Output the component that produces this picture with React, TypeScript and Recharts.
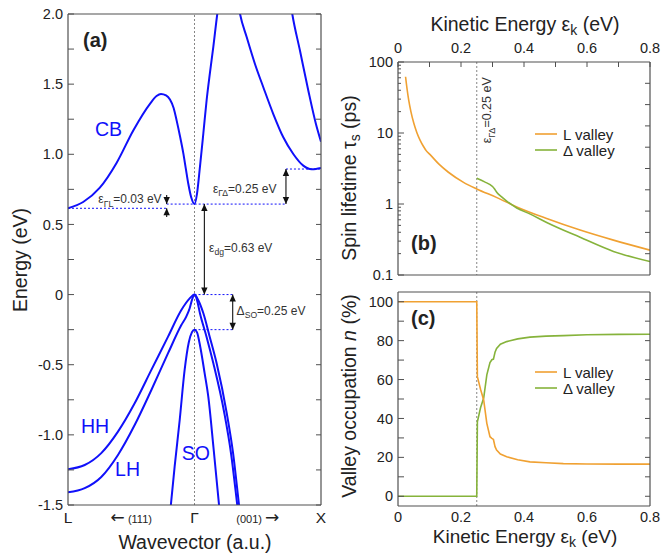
import React from "react";
import { LineChart, Line, XAxis, YAxis, ReferenceLine, ReferenceDot, Legend } from "recharts";

const FONT = "'Liberation Sans', Arial, sans-serif";
const BLUE = "#1010FA";
const ORANGE = "#F0A132";
const GREEN = "#86B33B";
const FRAME = "#505050";
const INK = "#222";
const TICK = 5;

// ---- (a) band structure: k runs L (-1) -> Γ (0) -> X (+1), energy in eV
const cbMain: [number, number][] = [
  [-1, 0.615], [-0.88, 0.66], [-0.75, 0.76], [-0.615, 0.94], [-0.484, 1.17], [-0.352, 1.36],
  [-0.3, 1.415], [-0.265, 1.43], [-0.225, 1.42], [-0.194, 1.39], [-0.165, 1.33], [-0.141, 1.24],
  [-0.115, 1.13], [-0.089, 1.01], [-0.069, 0.9], [-0.049, 0.79], [-0.025, 0.69], [0, 0.645],
  [0.02, 0.72], [0.043, 0.91], [0.07, 1.15], [0.096, 1.387], [0.122, 1.58], [0.149, 1.767],
  [0.18, 2.0], [0.21, 2.18], [0.25, 2.3], [0.29, 2.3], [0.33, 2.16], [0.36, 2.0], [0.413, 1.834],
  [0.478, 1.644], [0.544, 1.478], [0.623, 1.287], [0.702, 1.121], [0.781, 1.002], [0.86, 0.919],
  [0.926, 0.893], [0.96, 0.895], [1, 0.902],
];
const cbUpper: [number, number][] = [
  [0.74, 2.2], [0.773, 2.0], [0.834, 1.738], [0.9, 1.453], [0.96, 1.216], [1, 1.09],
];
const hhBand: [number, number][] = [
  [-1, -1.245], [-0.868, -1.215], [-0.737, -1.13], [-0.605, -0.977], [-0.473, -0.775],
  [-0.341, -0.537], [-0.209, -0.3], [-0.104, -0.11], [-0.038, -0.027], [0, 0], [0.03, -0.04],
  [0.07, -0.133], [0.12, -0.3], [0.175, -0.49], [0.255, -0.846], [0.305, -1.13], [0.352, -1.5],
  [0.38, -1.72],
];
const lhBand: [number, number][] = [
  [-1, -1.41], [-0.868, -1.38], [-0.737, -1.3], [-0.605, -1.143], [-0.473, -0.93], [-0.341, -0.68],
  [-0.209, -0.418], [-0.104, -0.217], [-0.065, -0.157], [-0.038, -0.098], [-0.02, -0.038], [0, 0],
  [0.02, -0.04], [0.043, -0.133], [0.095, -0.3], [0.149, -0.49], [0.236, -0.846], [0.29, -1.14],
  [0.338, -1.5], [0.37, -1.74],
];
const soBand: [number, number][] = [
  [-0.2, -1.62], [-0.183, -1.464], [-0.157, -1.227], [-0.117, -0.894], [-0.078, -0.537],
  [-0.045, -0.34], [-0.02, -0.268], [0, -0.25], [0.02, -0.27], [0.045, -0.37], [0.08, -0.56],
  [0.109, -0.728], [0.15, -1.09], [0.194, -1.5], [0.21, -1.66],
];
// band minima / maxima used by the annotations
const E_L = 0.615, E_G = 0.645, E_D = 0.895, E_VB = 0, E_SO = -0.25;

const energyTicks = [-1.5, -1.25, -1, -0.75, -0.5, -0.25, 0, 0.25, 0.5, 0.75, 1, 1.25, 1.5, 1.75, 2];
const kTicks = [-1, -0.5, 0, 0.5, 1];
const kLabels = ["L", "(111)", "Γ", "(001)", "X"];

// ---- (b) spin lifetime (ps) vs kinetic energy (eV)
const tauL: [number, number][] = [
  [0.024, 62], [0.029, 41], [0.034, 29], [0.041, 20], [0.05, 13.8], [0.06, 10.1], [0.07, 7.95],
  [0.081, 6.45], [0.09, 5.6], [0.102, 4.95], [0.13, 3.64], [0.16, 2.8], [0.208, 2.02],
  [0.25, 1.63], [0.314, 1.23], [0.377, 0.91], [0.472, 0.625], [0.578, 0.43], [0.684, 0.31],
  [0.8, 0.224],
];
const tauD: [number, number][] = [
  [0.25, 2.3], [0.275, 2.05], [0.3, 1.76], [0.306, 1.64], [0.314, 1.45], [0.33, 1.25],
  [0.346, 1.09], [0.377, 0.88], [0.42, 0.72], [0.472, 0.55], [0.578, 0.34], [0.684, 0.215],
  [0.8, 0.155],
];
const tauTicks = [
  0.1, 0.2, 0.3, 0.4, 0.5, 0.6, 0.7, 0.8, 0.9, 1, 2, 3, 4, 5, 6, 7, 8, 9,
  10, 20, 30, 40, 50, 60, 70, 80, 90, 100,
];
const tauMajor = [0.1, 1, 10, 100];
const rightLinTicks = [1, 2, 3, 4, 5, 6, 7, 8, 9];
const ekTicks = [0, 0.1, 0.2, 0.3, 0.4, 0.5, 0.6, 0.7, 0.8];
const ekLabelled = [0, 0.2, 0.4, 0.6, 0.8];

// ---- (c) valley occupation (%) vs kinetic energy (eV)
const occL: [number, number][] = [
  [0, 100], [0.25, 100], [0.252, 61.5], [0.262, 55], [0.272, 49.5], [0.282, 37.5], [0.292, 30.6],
  [0.298, 29.8], [0.303, 29.2], [0.308, 25.5], [0.313, 23.7], [0.325, 21.7], [0.345, 20.3],
  [0.38, 18.8], [0.419, 17.7], [0.47, 17.2], [0.525, 16.8], [0.6, 16.6], [0.7, 16.5], [0.8, 16.5],
];
const occD: [number, number][] = [
  [0, 0], [0.25, 0], [0.252, 38.3], [0.262, 45.5], [0.272, 50.5], [0.282, 62.4], [0.292, 68.7],
  [0.298, 70.2], [0.303, 70.5], [0.308, 74], [0.313, 76], [0.325, 78.2], [0.345, 79.5],
  [0.38, 80.9], [0.419, 81.8], [0.47, 82.3], [0.525, 82.6], [0.6, 83], [0.7, 83.2], [0.8, 83.3],
];
const occTicks = [0, 10, 20, 30, 40, 50, 60, 70, 80, 90, 100];

const valleys: [string, string][] = [["L valley", ORANGE], ["Δ valley", GREEN]];

const pts = (a: [number, number][]) => a.map(([x, y]) => ({ x, y }));

type TP = { x: number; y: number; payload: { value: number } };

// ticks drawn inside the frame, labels outside
const leftTick = (label: (v: number) => string | null, gap: number, minorLen = TICK) => (p: TP) => {
  const t = label(p.payload.value);
  const ax = p.x + gap;
  return (
    <g>
      <line x1={ax} x2={ax + (t !== null ? TICK + 1 : minorLen)} y1={p.y} y2={p.y} stroke={FRAME} />
      {t !== null && (
        <text x={p.x} y={p.y} dy="0.35em" textAnchor="end" fontSize={14.5} fill={INK} fontFamily={FONT}>
          {t}
        </text>
      )}
    </g>
  );
};
const rightTick = (p: TP) => (
  <line x1={p.x} x2={p.x - TICK} y1={p.y} y2={p.y} stroke={FRAME} />
);
const topTick = (gap: number) => (p: TP) => {
  const v = p.payload.value;
  const ay = p.y + gap;
  return (
    <g>
      <line x1={p.x} x2={p.x} y1={ay} y2={ay + TICK} stroke={FRAME} />
      {ekLabelled.includes(v) && (
        <text x={p.x} y={p.y} textAnchor="middle" fontSize={14.5} fill={INK} fontFamily={FONT}>
          {v === 0 ? "0" : v.toFixed(1)}
        </text>
      )}
    </g>
  );
};
const bottomEkTick = (p: TP) => {
  const v = p.payload.value;
  if (!ekLabelled.includes(v)) return <g />;
  return (
    <text x={p.x} y={p.y} dy={16} textAnchor="middle" fontSize={14.5} fill={INK} fontFamily={FONT}>
      {v === 0 ? "0" : v.toFixed(1)}
    </text>
  );
};
const arrowGlyph = { fontFamily: "'DejaVu Sans', sans-serif", fontSize: 17 };
const bottomKTick = (p: TP) => {
  const i = kTicks.indexOf(p.payload.value);
  const lab = kLabels[i];
  const common = { x: p.x, y: p.y, dy: 17.5, textAnchor: "middle" as const, fill: INK, fontFamily: FONT };
  if (i === 1)
    return (
      <text {...common} fontSize={11}>
        <tspan {...arrowGlyph}>←</tspan> {lab}
      </text>
    );
  if (i === 3)
    return (
      <text {...common} fontSize={11}>
        {lab} <tspan {...arrowGlyph}>→</tspan>
      </text>
    );
  return (
    <text {...common} fontSize={15.5}>
      {lab}
    </text>
  );
};

// double or single headed arrow for ReferenceLine segments
const arrow = (both: boolean) => (p: any) => {
  const { x1, y1, x2, y2 } = p;
  const a = Math.atan2(y2 - y1, x2 - x1);
  const head = (x: number, y: number, ang: number) => {
    const L = 7, W = 3.2;
    const bx = x - L * Math.cos(ang), by = y - L * Math.sin(ang);
    const s = Math.sin(ang), c = Math.cos(ang);
    return (
      <polygon
        points={`${x},${y} ${bx + W * s},${by - W * c} ${bx - W * s},${by + W * c}`}
        fill="#111"
      />
    );
  };
  return (
    <g>
      <line x1={x1} y1={y1} x2={x2} y2={y2} stroke="#111" strokeWidth={1.1} />
      {both && head(x1, y1, a + Math.PI)}
      {head(x2, y2, a)}
    </g>
  );
};

// text with a subscript, anchored at a data point
const subText = (main: string, sub: string, rest: string, fs: number, anchor: "start" | "end" = "start") =>
  (p: any) => (
    <text x={p.cx} y={p.cy} fontSize={fs} fill="#333" fontFamily={FONT} textAnchor={anchor}>
      {main}
      <tspan fontSize={fs * 0.72} dy={fs * 0.28}>{sub}</tspan>
      <tspan dy={-fs * 0.28}>{rest}</tspan>
    </text>
  );
const bandLabel = (s: string) => (p: any) => (
  <text x={p.cx} y={p.cy} fontSize={19.5} fill={BLUE} fontFamily={FONT}>{s}</text>
);

const frameLine = { stroke: FRAME, strokeWidth: 1.2 };
const dotted = { stroke: BLUE, strokeDasharray: "2 2", strokeWidth: 1 };
const gridDot = { stroke: "#777", strokeDasharray: "2 2", strokeWidth: 0.9 };

const legendContent = () => (
  <div style={{ fontFamily: FONT, fontSize: 15, color: INK }}>
    {valleys.map(([name, color]) => (
      <div key={name} style={{ display: "flex", alignItems: "center", height: 16 }}>
        <svg width={22} height={16}>
          <line x1={0} x2={22} y1={8} y2={8} stroke={color} strokeWidth={1.6} />
        </svg>
        <span style={{ marginLeft: 6 }}>{name}</span>
      </div>
    ))}
  </div>
);

function BandPanel() {
  const bands = [cbMain, cbUpper, hhBand, lhBand, soBand];
  return (
    <LineChart width={340} height={554} margin={{ top: 13, right: 18, bottom: 4, left: 18 }}>
      <XAxis dataKey="x" type="number" domain={[-1, 1]} ticks={kTicks} interval={0} allowDataOverflow
        tick={bottomKTick} tickLine={false} tickSize={0} tickMargin={0} height={45} axisLine={frameLine} />
      <XAxis xAxisId="t" orientation="top" type="number" domain={[-1, 1]} allowDataOverflow
        tick={false} tickLine={false} height={1} axisLine={frameLine} />
      <YAxis type="number" domain={[-1.5, 2]} ticks={energyTicks} interval={0} allowDataOverflow
        width={50} tickSize={0} tickMargin={5} tickLine={false} axisLine={frameLine}
        tick={leftTick((v) => (Number.isInteger(v * 2) ? (v === 0 ? "0" : v.toFixed(1)) : ""), 5)} />
      <YAxis yAxisId="r" orientation="right" type="number" domain={[-1.5, 2]} ticks={energyTicks}
        interval={0} allowDataOverflow width={1} tickSize={0} tickMargin={0} tickLine={false}
        axisLine={frameLine} tick={rightTick} />

      <ReferenceLine x={0} {...gridDot} />
      <ReferenceLine segment={[{ x: -1, y: E_L }, { x: -0.22, y: E_L }]} {...dotted} />
      <ReferenceLine segment={[{ x: -0.22, y: E_G }, { x: 0.723, y: E_G }]} {...dotted} />
      <ReferenceLine segment={[{ x: 0.723, y: E_D }, { x: 1, y: E_D }]} {...dotted} />
      <ReferenceLine segment={[{ x: 0, y: E_VB }, { x: 0.302, y: E_VB }]} {...dotted} />
      <ReferenceLine segment={[{ x: 0, y: E_SO }, { x: 0.302, y: E_SO }]} {...dotted} />

      {bands.map((b, i) => (
        <Line key={i} data={pts(b)} dataKey="y" type="monotone" stroke={BLUE} strokeWidth={2}
          dot={false} isAnimationActive={false} />
      ))}

      <ReferenceLine segment={[{ x: -0.22, y: 0.71 }, { x: -0.22, y: E_G }]} shape={arrow(false)} />
      <ReferenceLine segment={[{ x: -0.22, y: 0.553 }, { x: -0.22, y: E_L }]} shape={arrow(false)} />
      <ReferenceLine segment={[{ x: 0.723, y: E_G }, { x: 0.723, y: E_D }]} shape={arrow(true)} />
      <ReferenceLine segment={[{ x: 0.078, y: E_VB }, { x: 0.078, y: E_G }]} shape={arrow(true)} />
      <ReferenceLine segment={[{ x: 0.302, y: E_VB }, { x: 0.302, y: E_SO }]} shape={arrow(true)} />

      <ReferenceDot x={-0.26} y={0.65} r={0} shape={subText("ε", "ΓL", "=0.03 eV", 12, "end")} />
      <ReferenceDot x={0.146} y={0.726} r={0} shape={subText("ε", "ΓΔ", "=0.25 eV", 12)} />
      <ReferenceDot x={0.115} y={0.306} r={0} shape={subText("ε", "dg", "=0.63 eV", 12)} />
      <ReferenceDot x={0.333} y={-0.145} r={0} shape={subText("Δ", "SO", "=0.25 eV", 12)} />
      <ReferenceDot x={-0.787} y={1.13} r={0} shape={bandLabel("CB")} />
      <ReferenceDot x={-0.897} y={-0.985} r={0} shape={bandLabel("HH")} />
      <ReferenceDot x={-0.628} y={-1.293} r={0} shape={bandLabel("LH")} />
      <ReferenceDot x={-0.101} y={-1.179} r={0} shape={bandLabel("SO")} />
    </LineChart>
  );
}

function LifetimePanel() {
  return (
    <LineChart width={322} height={290} margin={{ top: 22, right: 11, bottom: 14, left: 8 }}>
      <XAxis xAxisId="top" orientation="top" dataKey="x" type="number" domain={[0, 0.8]} ticks={ekTicks}
        interval={0} allowDataOverflow height={40} tickSize={0} tickMargin={9} tickLine={false}
        axisLine={frameLine} tick={topTick(9)} />
      <XAxis xAxisId="b" type="number" domain={[0, 0.8]} allowDataOverflow tick={false} tickLine={false}
        height={1} axisLine={frameLine} />
      <YAxis type="number" scale="log" domain={[0.1, 100]} ticks={tauTicks} interval={0} allowDataOverflow
        width={50} tickSize={0} tickMargin={5} tickLine={false} axisLine={frameLine}
        tick={leftTick((v) => (tauMajor.includes(v) ? String(v) : null), 5, 3)} />
      <YAxis yAxisId="r" orientation="right" type="number" domain={[0, 10]} ticks={rightLinTicks}
        interval={0} allowDataOverflow width={1} tickSize={0} tickMargin={0} tickLine={false}
        axisLine={frameLine} tick={rightTick} />

      <ReferenceLine xAxisId="top" x={0.25} {...gridDot} />
      <Line xAxisId="top" data={pts(tauL)} dataKey="y" name="L valley" type="monotone" stroke={ORANGE}
        strokeWidth={1.6} dot={false} isAnimationActive={false} />
      <Line xAxisId="top" data={pts(tauD)} dataKey="y" name="Δ valley" type="monotone" stroke={GREEN}
        strokeWidth={1.6} dot={false} isAnimationActive={false} />
      <ReferenceDot xAxisId="top" x={0.296} y={20.9} r={0}
        shape={(p: any) => (
          <g transform={`rotate(-90 ${p.cx} ${p.cy})`}>
            <text x={p.cx} y={p.cy} fontSize={12.5} fill="#333" fontFamily={FONT} textAnchor="middle">
              ε<tspan fontSize={9} dy={3.5}>ΓΔ</tspan><tspan dy={-3.5}>=0.25 eV</tspan>
            </text>
          </g>
        )} />
      <Legend layout="vertical" align="center" verticalAlign="middle" content={legendContent}
        wrapperStyle={{ left: 195, top: 126, width: 120 }} />
    </LineChart>
  );
}

function OccupationPanel() {
  return (
    <LineChart width={322} height={274} margin={{ top: 11, right: 11, bottom: 4, left: 8 }}>
      <XAxis dataKey="x" type="number" domain={[0, 0.8]} ticks={ekTicks} interval={0} allowDataOverflow
        height={44} tickSize={0} tickMargin={0} tickLine={false} axisLine={frameLine} tick={bottomEkTick} />
      <XAxis xAxisId="t" orientation="top" type="number" domain={[0, 0.8]} allowDataOverflow tick={false}
        tickLine={false} height={1} axisLine={frameLine} />
      <YAxis type="number" domain={[-5, 105]} ticks={occTicks} interval={0} allowDataOverflow width={50}
        tickSize={0} tickMargin={5} tickLine={false} axisLine={frameLine}
        tick={leftTick((v) => (v % 20 === 0 ? String(v) : ""), 5)} />
      <YAxis yAxisId="r" orientation="right" type="number" domain={[-5, 105]} ticks={occTicks}
        interval={0} allowDataOverflow width={1} tickSize={0} tickMargin={0} tickLine={false}
        axisLine={frameLine} tick={rightTick} />

      <ReferenceLine x={0.25} {...gridDot} />
      <Line data={pts(occD)} dataKey="y" name="Δ valley" type="linear" stroke={GREEN} strokeWidth={1.6}
        dot={false} isAnimationActive={false} />
      <Line data={pts(occL)} dataKey="y" name="L valley" type="linear" stroke={ORANGE} strokeWidth={1.6}
        dot={false} isAnimationActive={false} />
      <Legend layout="vertical" align="center" verticalAlign="middle" content={legendContent}
        wrapperStyle={{ left: 195, top: 84, width: 120 }} />
    </LineChart>
  );
}

export default function App() {
  const title = { fontSize: 19.5, fill: INK, fontFamily: FONT, textAnchor: "middle" as const };
  const letter = { fontSize: 20, fontWeight: 700, fill: INK, fontFamily: FONT };
  return (
    <div style={{ position: "absolute", left: 0, top: 0, width: 662, height: 554, background: "#fff" }}>
      <div style={{ position: "absolute", left: 0, top: 0 }}>
        <BandPanel />
      </div>
      <div style={{ position: "absolute", left: 340, top: 0 }}>
        <LifetimePanel />
      </div>
      <div style={{ position: "absolute", left: 340, top: 280 }}>
        <OccupationPanel />
      </div>
      <svg width={662} height={554} style={{ position: "absolute", left: 0, top: 0, pointerEvents: "none" }}>
        <text {...title} transform="translate(27 260) rotate(-90)">Energy (eV)</text>
        <text {...title} x={195} y={549}>Wavevector (a.u.)</text>
        <text {...title} transform="translate(356 178) rotate(-90)">
          Spin lifetime τ<tspan fontSize={14} dy={4}>s</tspan><tspan dy={-4}> (ps)</tspan>
        </text>
        <text {...title} transform="translate(356 396) rotate(-90)">
          Valley occupation <tspan fontStyle="italic">n</tspan> (%)
        </text>
        <text {...title} x={525} y={31}>
          Kinetic Energy ε<tspan fontSize={14} dy={4}>k</tspan><tspan dy={-4}> (eV)</tspan>
        </text>
        <text {...title} fontSize={19} x={525} y={543}>
          Kinetic Energy ε<tspan fontSize={14} dy={4}>k</tspan><tspan dy={-4}> (eV)</tspan>
        </text>
        <text {...letter} x={83} y={47}>(a)</text>
        <text {...letter} x={411} y={250}>(b)</text>
        <text {...letter} x={411} y={325}>(c)</text>
      </svg>
    </div>
  );
}
